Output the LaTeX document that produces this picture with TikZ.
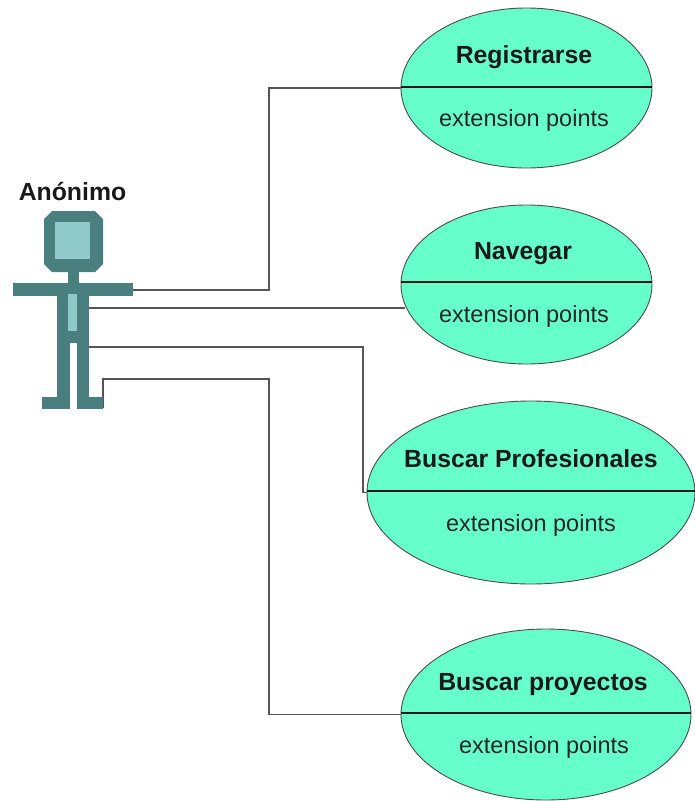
\documentclass[tikz,border=0pt]{standalone}
\usepackage{fontspec}
\setmainfont{Liberation Sans}
\usetikzlibrary{shapes.geometric}
\definecolor{usefill}{HTML}{66FFCC}
\definecolor{actdark}{HTML}{4A7F80}
\definecolor{actlight}{HTML}{8FC9C9}
\definecolor{wire}{HTML}{555555}
\tikzset{
  x=1pt,y=-1pt,
  usecase/.style={ellipse,draw=black!70,line width=0.9pt,fill=usefill,inner sep=0pt,minimum width=#1},
  ucname/.style={font=\fontsize{24.8}{28}\selectfont\bfseries,text=black!90,inner sep=0pt,anchor=base},
  ucext/.style={font=\fontsize{23.5}{28}\selectfont,text=black!85,inner sep=0pt,anchor=base},
  divider/.style={draw=black!90,line width=1.2pt},
  connector/.style={draw=wire,line width=1.2pt},
  actorbody/.style={fill=actdark,draw=none},
  actorpanel/.style={fill=actlight,draw=none},
}
\begin{document}
\begin{tikzpicture}
\useasboundingbox (0,0) rectangle (694,801);
% connector ends on the actor
\coordinate (armEnd) at (133,290);
\coordinate (torsoEnd) at (89,308);
\coordinate (hipEnd) at (89,347);
\coordinate (footEnd) at (103,408);
% use cases
\node[usecase=251pt,minimum height=160pt] (reg) at (526.5,88) {};
\node[usecase=251pt,minimum height=159pt] (nav) at (526.5,284.5) {};
\node[usecase=328pt,minimum height=183pt] (pro) at (531,492.5) {};
\node[usecase=290pt,minimum height=171pt] (pry) at (546,714.5) {};
% connectors
\draw[connector] (armEnd) -- (269,290) |- (reg.west);
\draw[connector] (torsoEnd) -- (nav.west |- torsoEnd) -- ++(4,0);
\draw[connector] (hipEnd) -- (363,347) |- (pro.west);
\draw[connector] (footEnd) -- (103,379) -- (269,379) |- (pry.west);
% redraw use cases' dividers
\draw[divider] ([yshift=1pt]reg.west) -- ([yshift=1pt]reg.east);
\draw[divider] ([yshift=2.5pt]nav.west) -- ([yshift=2.5pt]nav.east);
\draw[divider] ([yshift=1.5pt]pro.west) -- ([yshift=1.5pt]pro.east);
\draw[divider] ([yshift=1.5pt]pry.west) -- ([yshift=1.5pt]pry.east);
% labels
\node[ucname] (regn) at (524,63) {Registrarse};
\node[ucext] (rege) at (524,126) {extension points};
\node[ucname] (navn) at (523,259) {Navegar};
\node[ucext] (nave) at (524,322) {extension points};
\node[ucname] (pron) at (531,467) {Buscar Profesionales};
\node[ucext] (proe) at (531,531) {extension points};
\node[ucname] (pryn) at (543,690) {Buscar proyectos};
\node[ucext] (prye) at (544,753) {extension points};
\node[ucname] (actn) at (72.5,200) {Anónimo};
% actor
\fill[actorbody] (52,211) -- (95,211) -- (103,219) -- (103,264) -- (95,272) -- (52,272) -- (44,264) -- (44,219) -- cycle;
\fill[actorpanel] (55,222) rectangle (90,259);
\fill[actorbody] (68,272) rectangle (79,283);
\fill[actorbody] (13,283) rectangle (133,296);
\fill[actorbody] (57,296) rectangle (89,343);
\fill[actorbody] (57,343) rectangle (70,409);
\fill[actorbody] (77,343) rectangle (89,409);
\fill[actorbody] (42,397) rectangle (70,409);
\fill[actorbody] (77,397) rectangle (103,409);
\fill[actorpanel] (68,294) rectangle (77,331);
\end{tikzpicture}
\end{document}
